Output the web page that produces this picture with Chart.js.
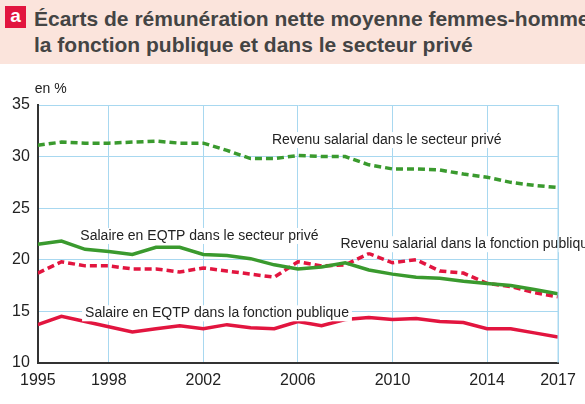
<!DOCTYPE html>
<html>
<head>
<meta charset="utf-8">
<script src="https://cdn.jsdelivr.net/npm/chart.js@4"></script>
<style>
body { margin: 0; background: #fff; font-family: "Liberation Sans Narrow", "Liberation Sans", Arial, sans-serif; }
#head { position: absolute; left: 0; top: 0; width: 585px; height: 64px; background: #fbe4dc; }
#badge { position: absolute; left: 5px; top: 6px; width: 21px; height: 22px; background: #e2153f; color: #fff; font-weight: bold; font-size: 19px; text-align: center; line-height: 20px; font-family: "Liberation Sans", Arial; }
#title { position: absolute; left: 34px; top: 6px; font-size: 21px; font-weight: bold; color: #444; line-height: 26px; white-space: nowrap; }
#wrap { position: absolute; left: 0; top: 66px; width: 585px; height: 338px; }
</style>
</head>
<body>
<div id="head"><div id="badge">a</div><div id="title">Écarts de rémunération nette moyenne femmes-hommes dans<br>la fonction publique et dans le secteur privé</div></div>
<div id="wrap"><canvas id="chart_ecarts"></canvas></div>
<script>
// données
let years = [1995, 1996, 1997, 1998, 1999, 2000, 2001, 2002, 2003, 2004, 2005, 2006, 2007, 2008, 2009, 2010, 2011, 2012, 2013, 2014, 2015, 2016, 2017];
let tickYears = [1995, 1998, 2002, 2006, 2010, 2014, 2017];
let revenuPrive = [31.1, 31.4, 31.3, 31.3, 31.4, 31.5, 31.3, 31.3, 30.6, 29.8, 29.8, 30.1, 30.0, 30.0, 29.2, 28.8, 28.8, 28.7, 28.3, 28.0, 27.5, 27.2, 27.0];
let salairePrive = [21.5, 21.8, 21.0, 20.8, 20.5, 21.2, 21.2, 20.5, 20.4, 20.1, 19.5, 19.1, 19.3, 19.7, 19.0, 18.6, 18.3, 18.2, 17.9, 17.7, 17.5, 17.1, 16.7];
let revenuPublic = [18.7, 19.8, 19.4, 19.4, 19.1, 19.1, 18.8, 19.2, 18.9, 18.6, 18.3, 19.8, 19.4, 19.5, 20.6, 19.7, 20.0, 18.9, 18.7, 17.7, 17.4, 16.8, 16.4];
let salairePublic = [13.7, 14.5, 14.0, 13.5, 13.0, 13.3, 13.6, 13.3, 13.7, 13.4, 13.3, 14.0, 13.6, 14.2, 14.4, 14.2, 14.3, 14.0, 13.9, 13.3, 13.3, 12.9, 12.5];

let labels = [
    {text: "Revenu salarial dans le secteur privé", x: 2004.9, y: 31.6},
    {text: "Salaire en EQTP dans le secteur privé", x: 1996.8, y: 22.3},
    {text: "Revenu salarial dans la fonction publique", x: 2007.8, y: 21.5},
    {text: "Salaire en EQTP dans la fonction publique", x: 1997, y: 14.8}
];

function serie(data, color, dashed) {
    return {
        data: data.map((v, i) => ({x: years[i], y: v})),
        borderColor: color,
        borderWidth: 3.5,
        borderDash: dashed ? [7, 4] : [],
        pointRadius: 0,
        tension: 0,
        fill: false
    };
}

const labelPlugin = {
    id: 'labelPlugin',
    afterDatasetsDraw(chart) {
        const ctx = chart.ctx;
        ctx.save();
        ctx.font = '14px "Liberation Sans Narrow", Arial';
        ctx.textBaseline = 'middle';
        labels.forEach(l => {
            const px = chart.scales.x.getPixelForValue(l.x);
            const py = chart.scales.y.getPixelForValue(l.y);
            const w = ctx.measureText(l.text).width;
            ctx.fillStyle = '#fff';
            ctx.fillRect(px - 3, py - 8, w + 6, 16);
            ctx.fillStyle = '#222';
            ctx.fillText(l.text, px, py);
        });
        ctx.fillStyle = '#222';
        ctx.font = '14px "Liberation Sans Narrow", Arial';
        ctx.fillText('en %', chart.chartArea.left - 3, chart.chartArea.top - 16);
        // bord droit
        ctx.strokeStyle = '#a8d8f0';
        ctx.lineWidth = 1;
        ctx.beginPath();
        ctx.moveTo(chart.chartArea.right, chart.chartArea.top);
        ctx.lineTo(chart.chartArea.right, chart.chartArea.bottom);
        ctx.stroke();
        ctx.restore();
    }
};

const chart = new Chart(document.getElementById('chart_ecarts').getContext('2d'), {
    type: 'line',
    data: {
        datasets: [
            serie(revenuPrive, '#3a9a2e', true),
            serie(salairePrive, '#3a9a2e', false),
            serie(revenuPublic, '#e2153f', true),
            serie(salairePublic, '#e2153f', false)
        ]
    },
    options: {
        responsive: true,
        maintainAspectRatio: false,
        animation: false,
        layout: {padding: {top: 39, right: 27, left: 4, bottom: 6}},
        plugins: {legend: {display: false}, tooltip: {enabled: false}},
        scales: {
            x: {
                type: 'linear',
                min: 1995,
                max: 2017,
                afterBuildTicks: axis => { axis.ticks = tickYears.map(v => ({value: v})); },
                ticks: {color: '#222', font: {size: 16, family: '"Liberation Sans Narrow", Arial'}, maxRotation: 0, padding: 8, callback: v => String(v)},
                grid: {color: '#a8d8f0', drawTicks: false},
                border: {color: '#333', width: 2}
            },
            y: {
                min: 10,
                max: 35,
                ticks: {stepSize: 5, color: '#222', font: {size: 16, family: '"Liberation Sans Narrow", Arial'}, padding: 8},
                grid: {color: '#a8d8f0', drawTicks: false},
                border: {color: '#333', width: 2}
            }
        }
    },
    plugins: [labelPlugin]
});
</script>
</body>
</html>
